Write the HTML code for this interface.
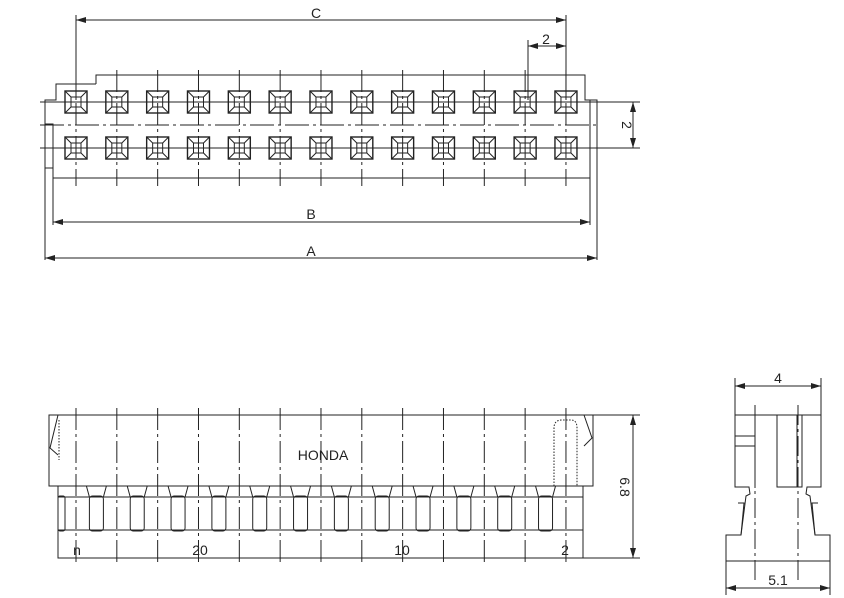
<!DOCTYPE html>
<html><head><meta charset="utf-8"><style>
html,body{margin:0;padding:0;background:#fff;width:844px;height:598px;overflow:hidden}
svg{display:block}
text{font-family:"Liberation Sans",sans-serif;font-size:14px;fill:#222}
</style></head><body>
<svg id="s" width="844" height="598" viewBox="0 0 844 598" xmlns="http://www.w3.org/2000/svg">
<defs>
<marker id="ar" viewBox="0 0 10 6" refX="10" refY="3" markerWidth="10" markerHeight="6" orient="auto-start-reverse" markerUnits="userSpaceOnUse"><path d="M0,0L10,3L0,6z" fill="#222"/></marker>
</defs>
<g id="g" stroke="#222" stroke-width="1" fill="none">
<path d="M96,84 V75 H585 V100 H597 V180 M45,190 V100 H56 V84 H96 M56,84 H96"/>
<path d="M45,124 H53 V168 H45 M53,168 V178 H590 V124 M590,100 V190 M597,180 V260 M45,180 V260"/>
<path d="M53,178 V225 M590,178 V225"/>
<line x1="76" y1="15" x2="76" y2="100"/><line x1="566" y1="15" x2="566" y2="100"/>
<line x1="528" y1="40" x2="528" y2="100"/>
<line x1="597" y1="102" x2="640" y2="102"/><line x1="597" y1="148" x2="640" y2="148"/>
<line x1="76" y1="20" x2="566" y2="20" marker-start="url(#ar)" marker-end="url(#ar)"/>
<line x1="528" y1="46" x2="566" y2="46" marker-start="url(#ar)" marker-end="url(#ar)"/>
<line x1="633" y1="102" x2="633" y2="148" marker-start="url(#ar)" marker-end="url(#ar)"/>
<line x1="53" y1="222" x2="590" y2="222" marker-start="url(#ar)" marker-end="url(#ar)"/>
<line x1="45" y1="258" x2="597" y2="258" marker-start="url(#ar)" marker-end="url(#ar)"/>
<line x1="40" y1="125" x2="600" y2="125" stroke-dasharray="24,4,3,4"/>
<rect x="49" y="415" width="544" height="71"/>
<path d="M58,486 V558 H583 V486"/>
<line x1="58" y1="497" x2="583" y2="497"/><line x1="58" y1="530" x2="583" y2="530"/>
<path d="M58,415 L50,448 L58,455" /><path d="M59,420 V460" stroke-dasharray="1.5,1.5"/>
<path d="M584,415 L592,438 L584,446"/>
<path d="M554,486 V428 Q554,420 562,420 H571 Q577,420 577,428 V486" stroke-dasharray="1.5,1.5"/>
<line x1="593" y1="415" x2="640" y2="415"/><line x1="583" y1="558" x2="640" y2="558"/>
<line x1="633" y1="415" x2="633" y2="558" marker-start="url(#ar)" marker-end="url(#ar)"/>
<path d="M735,415 H821 V487 H807 L806,494 L810,496 L815,535 H830 V561 H726 V535 H741 L746,496 L750,494 L749,487 H735 Z"/>
<path d="M777,415 V487 H802 V415 M797,415 V487"/>
<path d="M735,436 H755 M735,446 H755 M755,415 V488"/>
<path d="M741,535 L744,503 L738,503 M815,535 L812,503 L818,503"/>
<line x1="735" y1="378" x2="735" y2="415"/><line x1="821" y1="378" x2="821" y2="415"/>
<line x1="735" y1="386" x2="821" y2="386" marker-start="url(#ar)" marker-end="url(#ar)"/>
<line x1="726" y1="561" x2="726" y2="595"/><line x1="830" y1="561" x2="830" y2="595"/>
<line x1="726" y1="588" x2="830" y2="588" marker-start="url(#ar)" marker-end="url(#ar)"/>
<line x1="755" y1="405" x2="755" y2="580" stroke-dasharray="20,4,3,4"/>
<line x1="798" y1="405" x2="798" y2="580" stroke-dasharray="20,4,3,4"/>
</g>
<text x="316" y="18" text-anchor="middle">C</text>
<text x="546" y="44" text-anchor="middle">2</text>
<text x="311" y="219" text-anchor="middle">B</text>
<text x="311" y="256" text-anchor="middle">A</text>
<text x="626" y="125" text-anchor="middle" transform="rotate(90 626 125)" dy="4">2</text>
<text x="323" y="460" text-anchor="middle">HONDA</text>
<text x="77" y="555" text-anchor="middle">n</text>
<text x="200" y="555" text-anchor="middle">20</text>
<text x="402" y="555" text-anchor="middle">10</text>
<text x="565" y="555" text-anchor="middle">2</text>
<text x="624" y="487" text-anchor="middle" transform="rotate(90 624 487)" dy="4">6.8</text>
<text x="778" y="383" text-anchor="middle">4</text>
<text x="778" y="585" text-anchor="middle">5.1</text>
<script>
var g=document.getElementById('g'),ns='http://www.w3.org/2000/svg';
function el(t,a){var e=document.createElementNS(ns,t);for(var k in a)e.setAttribute(k,a[k]);g.appendChild(e);return e;}
for(var i=0;i<13;i++){var x=76+i*40.83;
 el('line',{x1:x,y1:70,x2:x,y2:186,'stroke-dasharray':'22,4,3,4'});
 el('line',{x1:x,y1:408,x2:x,y2:566,'stroke-dasharray':'22,4,3,4'});
 [102,148].forEach(function(y){
  el('rect',{x:x-11,y:y-11,width:22,height:22,'stroke-width':1.4});
  el('rect',{x:x-5,y:y-5,width:10,height:10});
  el('path',{d:'M'+(x-11)+','+(y-11)+'L'+(x-5)+','+(y-5)+'M'+(x+11)+','+(y-11)+'L'+(x+5)+','+(y-5)+'M'+(x-11)+','+(y+11)+'L'+(x-5)+','+(y+5)+'M'+(x+11)+','+(y+11)+'L'+(x+5)+','+(y+5)});
  el('line',{x1:x-16,y1:y,x2:x+16,y2:y});
 });
 if(i<12){var m=x+20.4;
  el('rect',{x:m-7,y:496,width:14,height:35,rx:3});
  el('path',{d:'M'+(m-7)+',497 L'+(m-10)+',486 M'+(m+7)+',497 L'+(m+10)+',486'});
 }
}
el('line',{x1:40,y1:102,x2:600,y2:102});el('line',{x1:40,y1:148,x2:600,y2:148});
el('rect',{x:58,y:496,width:7,height:35,rx:2});
</script>
</svg>
</body></html>
